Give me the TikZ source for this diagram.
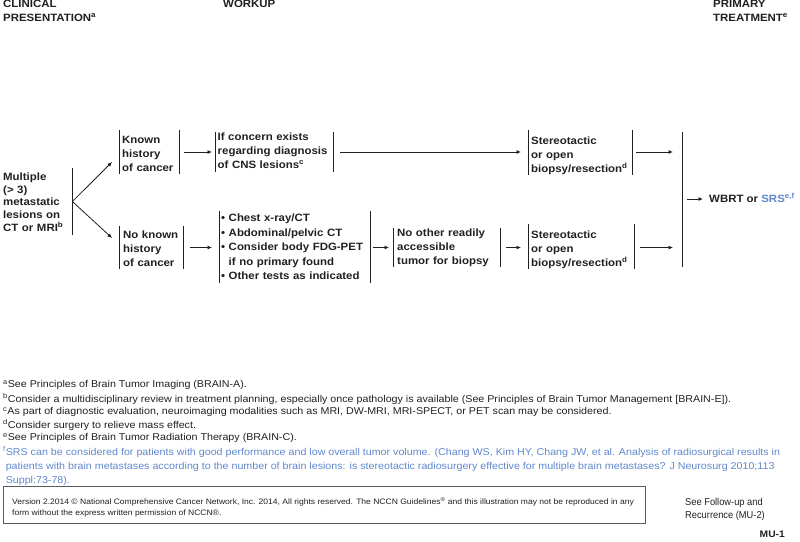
\documentclass[tikz,border=0pt]{standalone}
\usepackage{fontspec}
\setmainfont[FakeStretch=1.08]{Liberation Sans}
\newfontfamily\plainfont[FakeStretch=0.93]{Liberation Sans}
\usetikzlibrary{arrows.meta}
\definecolor{txtgray}{RGB}{35,31,32}
\definecolor{srsblue}{RGB}{95,135,205}
\definecolor{boxgray}{RGB}{90,90,90}

\begin{document}
\begin{tikzpicture}[x=1pt, y=-1pt, text=txtgray,
	flow/.style={anchor=west, inner xsep=4pt, inner ysep=0pt, align=left, text depth=30.5pt,
		font=\fontsize{10.6}{14}\selectfont\bfseries},
	head/.style={anchor=north west, inner sep=0pt, align=left,
		font=\fontsize{10.6}{14}\selectfont\bfseries},
	foot/.style={anchor=west, inner sep=0pt, align=left,
		font=\fontsize{9.9}{14}\selectfont},
	bar/.style={line width=0.9pt, draw=txtgray},
	arr/.style={-{Latex[length=4.5pt,width=4pt]}, line width=0.8pt, draw=txtgray}]
	\useasboundingbox (0,0) rectangle (800,541);

	% column heads
	\node[head] (hclin) at (3,0) {CLINICAL\\PRESENTATION\textsuperscript{a}};
	\node[head] (hwork) at (223,0) {WORKUP};
	\node[head] (htreat) at (713,0) {PRIMARY\\TREATMENT\textsuperscript{e}};

	% flow boxes
	\node[flow, inner xsep=3pt, text width=66pt, minimum height=67pt, text height=11.3pt, text depth=53.3pt,
		font=\fontsize{10.6}{12.7}\selectfont\bfseries] (pres) at (0,201.5)
		{Multiple\\(> 3)\\metastatic\\lesions on\\CT or MRI\textsuperscript{b}};
	\node[flow, inner xsep=3pt, text width=54pt, minimum height=44pt, text height=13.5pt] (known) at (119,152)
		{Known\\history\\of cancer};
	\node[flow, inner xsep=2.5pt, text width=113pt, minimum height=40pt, text height=7.5pt] (concern) at (215,152)
		{If concern exists\\regarding diagnosis\\of CNS lesions\textsuperscript{c}};
	\node[flow, inner xsep=3pt, text width=98pt, minimum height=41pt, text height=14.5pt] (stereoA) at (528,152.5)
		{Stereotactic\\or open\\biopsy/resection\textsuperscript{d}};
	\node[flow, text width=56pt, minimum height=39pt, text height=12.5pt] (noknown) at (119,247.5)
		{No known\\history\\of cancer};
	\node[flow, inner xsep=2pt, text width=147pt, minimum height=72pt, text height=9.5pt, text depth=60.5pt,
		font=\fontsize{10.6}{14.5}\selectfont\bfseries] (tests) at (219,247)
		{\textbullet\ Chest x-ray/CT\\\textbullet\ Abdominal/pelvic CT\\\textbullet\ Consider body FDG-PET\\
		\phantom{\textbullet\ }if no primary found\\\textbullet\ Other tests as indicated};
	\node[flow, text width=99pt, minimum height=39pt, text height=8.5pt] (noother) at (393,247.5)
		{No other readily\\accessible\\tumor for biopsy};
	\node[flow, inner xsep=3pt, text width=100pt, minimum height=41pt, text height=14.5pt] (stereoB) at (528,246.5)
		{Stereotactic\\or open\\biopsy/resection\textsuperscript{d}};
	\coordinate (bartop) at (682,132);
	\coordinate (barbot) at (682,267);
	\node[flow, inner xsep=0pt, text height=8pt, text depth=2pt] (wbrt) at (709,199)
		{WBRT or \textcolor{srsblue}{SRS\textsuperscript{e,f}}};

	% side bars
	\draw[bar] (pres.north east) -- (pres.south east);
	\draw[bar] (known.north west) -- (known.south west) (known.north east) -- (known.south east);
	\draw[bar] (concern.north west) -- (concern.south west) (concern.north east) -- (concern.south east);
	\draw[bar] (stereoA.north west) -- (stereoA.south west) (stereoA.north east) -- (stereoA.south east);
	\draw[bar] (noknown.north west) -- (noknown.south west) (noknown.north east) -- (noknown.south east);
	\draw[bar] (tests.north west) -- (tests.south west) (tests.north east) -- (tests.south east);
	\draw[bar] (noother.north west) -- (noother.south west) (noother.north east) -- (noother.south east);
	\draw[bar] (stereoB.north west) -- (stereoB.south west) (stereoB.north east) -- (stereoB.south east);
	\draw[bar] (bartop) -- (barbot);

	% arrows
	\draw[arr] (pres.east) -- ([xshift=-7pt,yshift=-10pt]known.west);
	\draw[arr] (pres.east) -- ([xshift=-7pt,yshift=9.5pt]noknown.west);
	\draw[arr] ([xshift=5pt]known.east) -- ([xshift=-3pt]concern.west);
	\draw[arr] ([xshift=7pt]concern.east) -- ([xshift=-7pt]stereoA.west |- concern.east);
	\draw[arr] ([xshift=4pt]stereoA.east |- concern.east) -- ([xshift=-9pt]bartop |- concern.east);
	\draw[arr] ([xshift=7pt]noknown.east) -- ([xshift=-7pt]tests.west |- noknown.east);
	\draw[arr] ([xshift=3pt]tests.east |- noknown.east) -- ([xshift=-4pt]noother.west);
	\draw[arr] ([xshift=6pt]noother.east) -- ([xshift=-7pt]stereoB.west |- noother.east);
	\draw[arr] ([xshift=6pt]stereoB.east |- noother.east) -- ([xshift=-9pt]bartop |- noother.east);
	\draw[arr] ([xshift=5pt]bartop |- wbrt.west) -- ([xshift=-6pt]wbrt.west);

	% footnotes
	\node[foot] (fna) at (3,385) {\textsuperscript{a}See Principles of Brain Tumor Imaging (BRAIN-A).};
	\node[foot] (fnb) at (3,399) {\textsuperscript{b}Consider a multidisciplinary review in treatment planning, especially once pathology is available (See Principles of Brain Tumor Management [BRAIN-E]).};
	\node[foot] (fnc) at (3,412) {\textsuperscript{c}As part of diagnostic evaluation, neuroimaging modalities such as MRI, DW-MRI, MRI-SPECT, or PET scan may be considered.};
	\node[foot] (fnd) at (3,425) {\textsuperscript{d}Consider surgery to relieve mass effect.};
	\node[foot] (fne) at (3,438) {\textsuperscript{e}See Principles of Brain Tumor Radiation Therapy (BRAIN-C).};
	\node[foot, text=srsblue] (fnf) at (3,466)
		{\textsuperscript{f}SRS can be considered for patients with good performance and low overall tumor volume. (Chang WS, Kim HY, Chang JW, et al. Analysis of radiosurgical results in\\
		\phantom{\textsuperscript{f}}patients with brain metastases according to the number of brain lesions: is stereotactic radiosurgery effective for multiple brain metastases? J Neurosurg 2010;113\\
		\phantom{\textsuperscript{f}}Suppl:73-78).};

	% footer
	\draw[draw=boxgray, line width=1pt] (3,486) rectangle (645,523);
	\node[anchor=west, inner sep=0pt, align=left, font=\fontsize{7.9}{11.5}\selectfont] (version) at (12,507.5)
		{Version 2.2014 © National Comprehensive Cancer Network, Inc. 2014, All rights reserved. The NCCN Guidelines\textsuperscript{®} and this illustration may not be reproduced in any\\
		form without the express written permission of NCCN®.};
	\node[anchor=west, inner sep=0pt, align=left, font=\plainfont\fontsize{10}{13}\selectfont] (follow) at (685,509.5)
		{See Follow-up and\\Recurrence (MU-2)};
	\node[anchor=east, inner sep=0pt, font=\fontsize{9.5}{12}\selectfont\bfseries] (page) at (785,534) {MU-1};
\end{tikzpicture}
\end{document}
